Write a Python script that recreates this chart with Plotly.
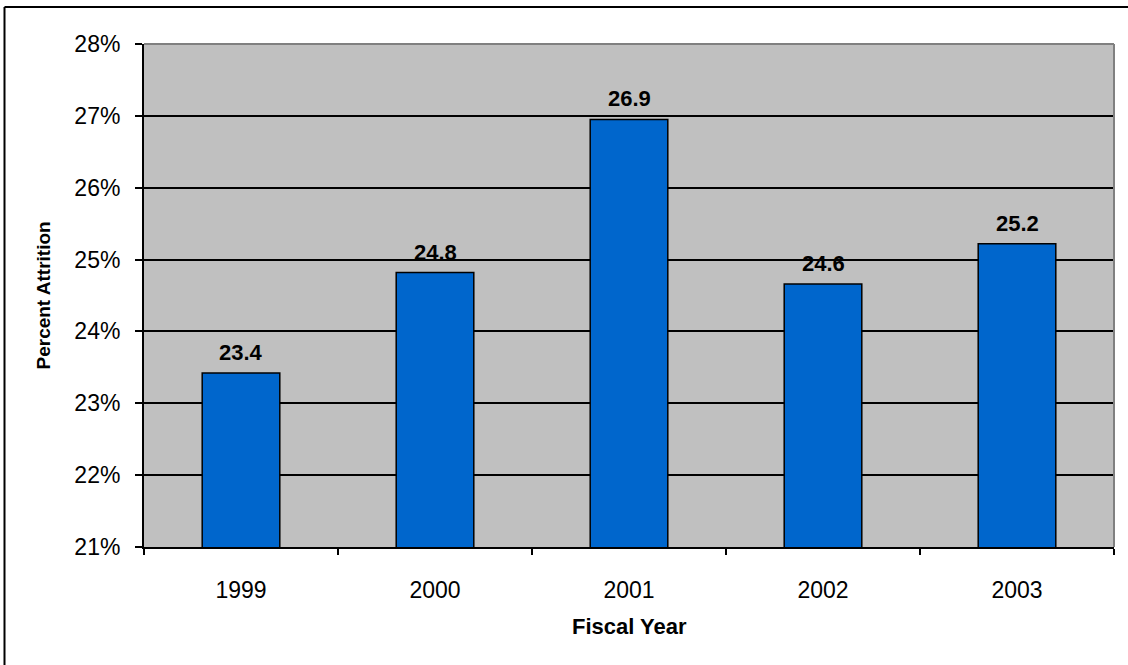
import plotly.graph_objects as go

years = ["1999", "2000", "2001", "2002", "2003"]
attrition = [23.42, 24.82, 26.95, 24.66, 25.22]
value_labels = ["23.4", "24.8", "26.9", "24.6", "25.2"]
y_ticks = [21, 22, 23, 24, 25, 26, 27, 28]

FONT = "Liberation Sans, Arial, sans-serif"

fig = go.Figure()
fig.add_trace(go.Bar(
    x=years, y=attrition,
    marker=dict(color="#0066CC", line=dict(color="black", width=1.5)),
    width=0.4, hoverinfo="x+y",
))

for i, (v, lab) in enumerate(zip(attrition, value_labels)):
    fig.add_annotation(x=i, y=v, text="<b>" + lab + "</b>", showarrow=False,
                       yanchor="bottom", yshift=6,
                       font=dict(family=FONT, size=22, color="black"))

L, R, T, B = 144, 14, 44, 118
W, H = 1128, 665
pw, ph = W - L - R, H - T - B

def px_x(p):
    return (p - L) / pw

def px_y(p):
    return (H - B - p) / ph

# axis titles
fig.add_annotation(x=px_x(43), y=0.5, xref="paper", yref="paper", text="<b>Percent Attrition</b>",
                   textangle=-90, showarrow=False, xanchor="center", yanchor="middle",
                   font=dict(family=FONT, size=19, color="black"))
fig.add_annotation(x=0.5, y=px_y(626), xref="paper", yref="paper", text="<b>Fiscal Year</b>",
                   showarrow=False, xanchor="center", yanchor="middle",
                   font=dict(family=FONT, size=22, color="black"))

# plot-area top/right border (gray)
fig.add_shape(type="line", xref="paper", yref="paper", x0=0, x1=1, y0=1, y1=1,
              line=dict(color="#808080", width=2))
fig.add_shape(type="line", xref="paper", yref="paper", x0=1, x1=1, y0=0, y1=1,
              line=dict(color="#808080", width=2))
# outer chart border (left and top visible)
fig.add_shape(type="line", xref="paper", yref="paper", x0=px_x(4.5), x1=px_x(1140),
              y0=px_y(7), y1=px_y(7), line=dict(color="black", width=2))
fig.add_shape(type="line", xref="paper", yref="paper", x0=px_x(4.5), x1=px_x(4.5),
              y0=px_y(7), y1=px_y(680), line=dict(color="black", width=2))

fig.update_layout(
    width=W, height=H,
    margin=dict(l=L, r=R, t=T, b=B, pad=0),
    paper_bgcolor="white", plot_bgcolor="#C0C0C0",
    showlegend=False,
    font=dict(family=FONT, size=22, color="black"),
)
fig.update_xaxes(
    type="category", range=[-0.5, len(years) - 0.5], autorange=False,
    showgrid=False, showline=True, linecolor="black", linewidth=2,
    ticks="outside", ticklen=6, tickwidth=2, tickcolor="black", tickson="boundaries",
    tickfont=dict(family=FONT, size=23, color="black"), ticklabelstandoff=21,
    tickangle=0, zeroline=False,
)
fig.update_yaxes(
    range=[21, 28], autorange=False, tickvals=y_ticks, ticktext=[f"{t}%" for t in y_ticks],
    showgrid=True, gridcolor="black", gridwidth=1.5,
    showline=True, linecolor="black", linewidth=2,
    ticks="outside", ticklen=7, tickwidth=2, tickcolor="black",
    tickfont=dict(family=FONT, size=23, color="black"), ticklabelstandoff=10,
    zeroline=False,
)

fig.write_html("out.html")
